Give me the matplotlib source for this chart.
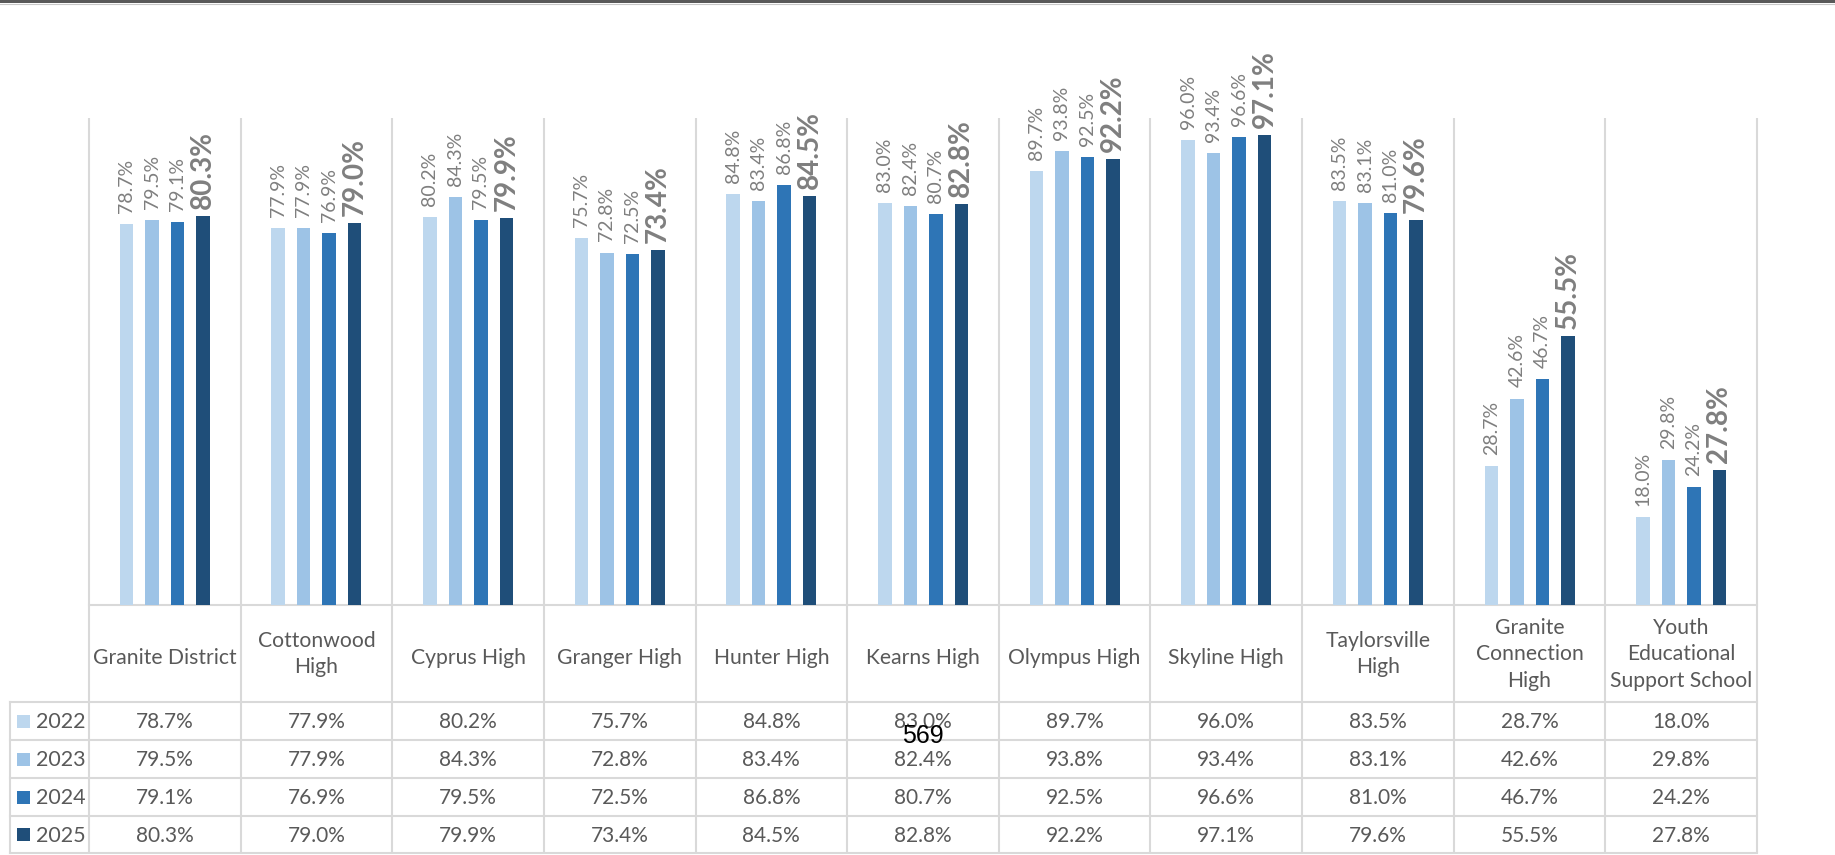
import matplotlib
matplotlib.use("Agg")
import matplotlib.pyplot as plt
from matplotlib.patches import Rectangle

plt.rcParams['font.family'] = ['Lato', 'DejaVu Sans']

schools = ["Granite District", "Cottonwood\nHigh", "Cyprus High", "Granger High",
           "Hunter High", "Kearns High", "Olympus High", "Skyline High",
           "Taylorsville\nHigh", "Granite\nConnection\nHigh",
           "Youth\nEducational\nSupport School"]
years = ["2022", "2023", "2024", "2025"]
v2022 = [78.7, 77.9, 80.2, 75.7, 84.8, 83.0, 89.7, 96.0, 83.5, 28.7, 18.0]
v2023 = [79.5, 77.9, 84.3, 72.8, 83.4, 82.4, 93.8, 93.4, 83.1, 42.6, 29.8]
v2024 = [79.1, 76.9, 79.5, 72.5, 86.8, 80.7, 92.5, 96.6, 81.0, 46.7, 24.2]
v2025 = [80.3, 79.0, 79.9, 73.4, 84.5, 82.8, 92.2, 97.1, 79.6, 55.5, 27.8]
series = [v2022, v2023, v2024, v2025]
colors = ["#BDD7EE", "#9DC3E6", "#2E75B6", "#1F4E79"]
page_no = "569"

W, H = 1835, 855
grid_col = "#D9D9D9"
text_col = "#595959"
label_col = "#7F7F7F"

# layout in pixels (from top-left)
x_left, x_right = 89, 1757
tbl_left = 10
y_top_lines = 118
y_base = 604.5
y_full = 121          # where 100% sits
y_rows = [702, 740, 778, 816, 853]
ncat = len(schools)
colw = (x_right - x_left) / ncat

fig = plt.figure(figsize=(W / 100, H / 100), dpi=100)

# background axes in pixel coords for grid / table
bg = fig.add_axes([0, 0, 1, 1])
bg.set_xlim(0, W)
bg.set_ylim(H, 0)
bg.axis('off')

# top border band
bg.add_patch(Rectangle((0, 0), W, 3.5, color="#595959", lw=0))
bg.plot([0, W], [4.5, 4.5], color="#C8C8C8", lw=0.8)

lw = 1.5
for i in range(ncat + 1):
    xx = x_left + i * colw
    bg.plot([xx, xx], [y_top_lines, y_rows[-1]], color=grid_col, lw=lw, solid_capstyle='butt')
bg.plot([tbl_left, tbl_left], [y_rows[0], y_rows[-1]], color=grid_col, lw=lw)
bg.plot([x_left, x_right], [y_base, y_base], color=grid_col, lw=lw)
for yy in y_rows:
    bg.plot([tbl_left, x_right], [yy, yy], color=grid_col, lw=lw)

# category labels (single lines sit a touch lower, like Excel)
for i, s in enumerate(schools):
    dy = 1 if "\n" in s else 5
    bg.text(x_left + (i + 0.5) * colw, (y_base + y_rows[0]) / 2 + dy, s,
            ha='center', va='center', fontsize=15.2, color=text_col, linespacing=1.4)

# data table with legend keys
for r, (yr, vals, c) in enumerate(zip(years, series, colors)):
    yc = (y_rows[r] + y_rows[r + 1]) / 2
    bg.add_patch(Rectangle((17, yc - 6.5), 13, 13, color=c, lw=0))
    bg.text(36, yc + 1, yr, ha='left', va='center', fontsize=15.5, color=text_col)
    for i, v in enumerate(vals):
        bg.text(x_left + (i + 0.5) * colw, yc + 1, "%.1f%%" % v,
                ha='center', va='center', fontsize=15, color=text_col)

# bar axes
ax = fig.add_axes([x_left / W, (H - y_base) / H, (x_right - x_left) / W, (y_base - y_full) / H])
ax.set_xlim(0, ncat)
ax.set_ylim(0, 100)
ax.axis('off')
ax.patch.set_alpha(0)

bw = 13.5 / colw
step = 25.5 / colw
for k, (vals, c) in enumerate(zip(series, colors)):
    xs = [i + 0.5 + (k - 1.5) * step for i in range(ncat)]
    ax.bar(xs, vals, width=bw, color=c, lw=0)
    last = (k == len(series) - 1)
    for x, v in zip(xs, vals):
        ax.annotate("%.1f%%" % v, (x, v), xytext=(0, 5 if last else 8), textcoords='offset points',
                    rotation=90, ha='center', va='bottom', color=label_col,
                    fontsize=20 if last else 14, fontweight='bold' if last else 'normal',
                    annotation_clip=False)

# page number stamped over the table
bg.text(923, 736, page_no, ha='center', va='center', fontsize=18,
        family=['Liberation Sans', 'DejaVu Sans'], color='black')

fig.savefig("out.png", dpi=100)
